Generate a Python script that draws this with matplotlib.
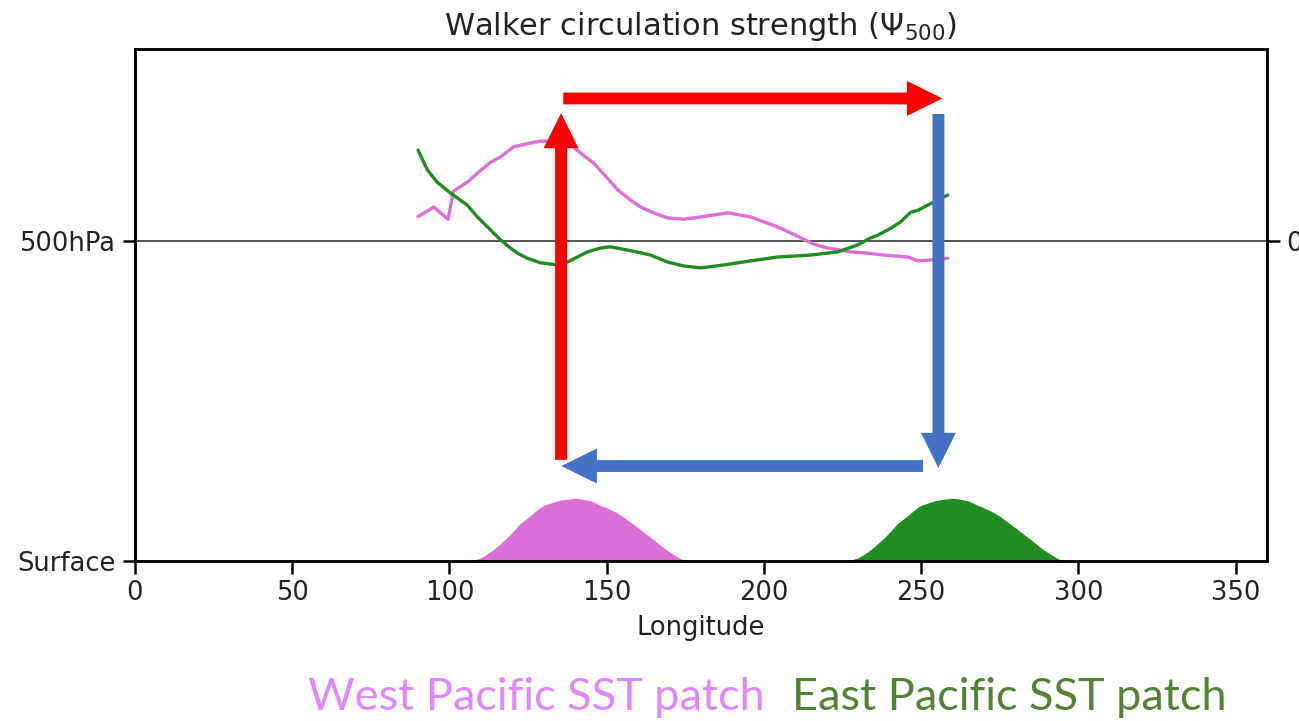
import numpy as np
import matplotlib
matplotlib.use("Agg")
import matplotlib.pyplot as plt
from matplotlib.patches import FancyArrow

# ---- data ----
lon_pink = [90, 95, 99.6, 101.2, 102.8, 105.7, 108.9, 113, 116.2, 120.3, 124.8, 128.9,
            132.1, 135.3, 139.4, 141.7, 145.8, 150.3, 153.5, 157.6, 160.8, 164.9,
            169.4, 174.5, 179.9, 188.5, 195.8, 204.4, 208.5, 211.7, 215.9, 220.3,
            227.6, 233, 238.1, 245.8, 249, 252.1, 258.5]
psi_pink = [0.38, 0.53, 0.34, 0.77, 0.83, 0.92, 1.06, 1.23, 1.31, 1.47, 1.52, 1.56,
            1.56, 1.55, 1.47, 1.375, 1.22, 0.98, 0.80, 0.64, 0.53, 0.44,
            0.36, 0.34, 0.375, 0.44, 0.375, 0.22, 0.125, 0.05, -0.05, -0.11,
            -0.17, -0.19, -0.22, -0.25, -0.31, -0.30, -0.27]

lon_green = [90, 93, 96.1, 100.3, 105.7, 108.9, 112.1, 116.2, 119.4, 121.6, 124.8,
             128.9, 134.4, 137.5, 143.9, 148, 151.2, 158.5, 164, 169.4, 174.5, 179.9,
             187.2, 195.8, 204.4, 214.9, 223.5, 229.9, 234, 236.2, 240.4, 243.5,
             246.7, 249, 252.1, 255.3, 258.5]
psi_green = [1.42, 1.11, 0.92, 0.75, 0.56, 0.375, 0.22, 0.02, -0.11, -0.19, -0.27,
             -0.34, -0.375, -0.33, -0.17, -0.11, -0.09, -0.16, -0.22, -0.33, -0.39, -0.42,
             -0.375, -0.31, -0.25, -0.22, -0.17, -0.06, 0.05, 0.09, 0.20, 0.30,
             0.45, 0.48, 0.56, 0.64, 0.72]

# SST patch profiles (hPa-equivalent height above surface)
patch_offset = [-35, -32, -30, -27, -25, -22, -20, -17.4, -15, -11.1, -10, -7, -5, -2,
                0, 2, 5, 8, 10, 13, 15, 16.6, 20, 22, 25, 28, 30, 33, 35]
patch_height = [0, 2, 5, 14, 22, 35, 45, 59, 68, 84, 87, 92, 95, 97,
                98, 97, 94, 87, 83, 76, 70, 64, 52, 44, 33, 21, 14, 5, 0]
west_center = 140
east_center = 260

xticks = [0, 50, 100, 150, 200, 250, 300, 350]
yticks = [1000, 500]
ytick_labels = ["Surface", "500hPa"]

# ---- figure ----
fig = plt.figure(figsize=(12.99, 7.21), dpi=100)
ax = fig.add_axes([135 / 1299, 1 - 561 / 721, (1267 - 135) / 1299, (561 - 49) / 721])
ax2 = ax.twinx()

FS = 18.5
TC = "#222222"
ax.set_xlim(0, 360)
ax.set_ylim(1000, 200)
ax.set_xticks(xticks)
ax.set_yticks(yticks)
ax.set_yticklabels(ytick_labels)
ax.tick_params(labelsize=FS, length=9, width=1.8, pad=5, labelcolor=TC)
ax.set_xlabel("Longitude", fontsize=FS, labelpad=6, color=TC)
ax.set_title(r"Walker circulation strength ($\Psi_{500}$)", fontsize=22, pad=10, color=TC)
for sp in ax.spines.values():
    sp.set_linewidth(1.8)

wl = np.array(patch_offset) + west_center
el = np.array(patch_offset) + east_center
ph = 1000 - np.array(patch_height)
ax.fill_between(wl, 1000, ph, color="orchid", lw=0, zorder=2)
ax.fill_between(el, 1000, ph, color="forestgreen", lw=0, zorder=2)

ax2.set_ylim(-5, 3)
ax2.set_yticks([0])
ax2.tick_params(labelsize=FS, length=9, width=1.8, pad=5, labelcolor=TC)
ax2.axhline(0, color="#444444", lw=1.3, zorder=1)
ax2.plot(lon_pink, psi_pink, color="orchid", lw=2.4, solid_capstyle="round")
ax2.plot(lon_green, psi_green, color="forestgreen", lw=2.4, solid_capstyle="round")
for sp in ax2.spines.values():
    sp.set_linewidth(1.8)

# ---- arrows (data units lon / hPa of the left axis) ----
red = "#FF0000"
blue = "#4472C4"
w_lon = 3.8
w_hpa = 18.5
hw_lon = 11.1
hw_hpa = 54.7
hl_lon = 11.3
hl_hpa = 55

arrows = [
    (135.5, 842, 0, 300 - 842, red, True),
    (136.2, 277.3, 256.8 - 136.2, 0, red, False),
    (255.5, 301.6, 0, 854.7 - 301.6, blue, True),
    (250.6, 851.6, 135.6 - 250.6, 0, blue, False),
]
for x, y, dx, dy, c, vert in arrows:
    if vert:
        a = FancyArrow(x, y, dx, dy, width=w_lon, head_width=hw_lon, head_length=hl_hpa,
                       length_includes_head=True, color=c, lw=0, zorder=10)
    else:
        a = FancyArrow(x, y, dx, dy, width=w_hpa, head_width=hw_hpa, head_length=hl_lon,
                       length_includes_head=True, color=c, lw=0, zorder=10)
    a.set_clip_on(False)
    fig.add_artist(a)
    a.set_transform(ax.transData)

# ---- bottom captions ----
fig.text(308 / 1299, 1 - 710 / 721, "West Pacific SST patch", color="#DD88FF",
         fontsize=32.5, family="Lato", ha="left", va="baseline")
fig.text(792 / 1299, 1 - 710 / 721, "East Pacific SST patch", color="#548235",
         fontsize=32.5, family="Lato", ha="left", va="baseline")

fig.savefig("out.png", dpi=100)
